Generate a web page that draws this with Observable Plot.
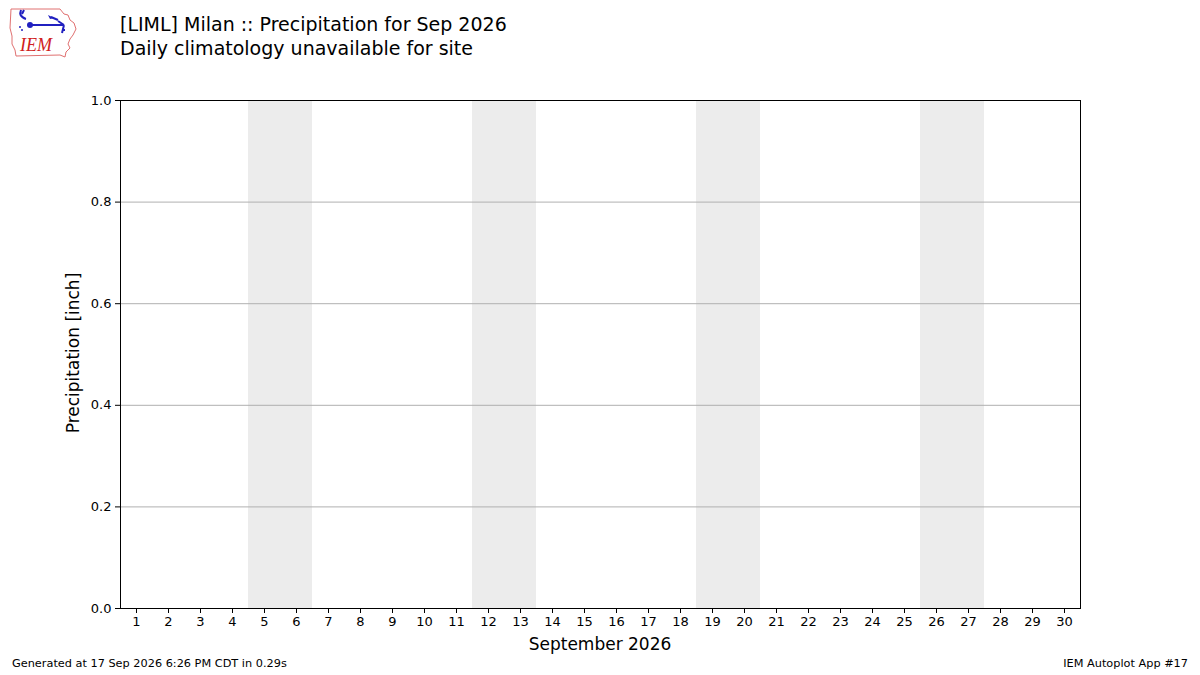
<!DOCTYPE html>
<html><head><meta charset="utf-8">
<script src="https://cdn.jsdelivr.net/npm/d3@7"></script>
<script src="https://cdn.jsdelivr.net/npm/@observablehq/plot@0.6"></script>
<style>
html,body{margin:0;padding:0;background:#fff;}
#wrap{position:relative;width:1200px;height:675px;overflow:hidden;font-family:"DejaVu Sans",sans-serif;color:#000;}
.t{position:absolute;white-space:nowrap;}
#chart{position:absolute;left:0;top:0;}
</style></head>
<body><div id="wrap">
<svg class="t" style="left:8px;top:6px" width="72" height="54" viewBox="0 0 72 54">
  <path d="M3,3 L52,3 L56,8 L60,9 L62,14 L66,17 L68,23 L65,29 L62,33 L60,38 L62,42 L58,46 L57,51 L52,49 L8,50 L7,44 L4,38 L4,30 L2,22 L3,3 Z" fill="#fff" stroke="#e07070" stroke-width="1"/>
  <path d="M13,4 L12,8 M16,4 L14,8 M12,8 Q14,12 18,13" fill="none" stroke="#2020c0" stroke-width="2"/>
  <circle cx="22" cy="19" r="3" fill="#2020c0"/>
  <path d="M22,19 L56,19 M50,15 L56,19 M43,11 L50,14 M56,19 L54,27 M54,24 L57,24" fill="none" stroke="#2020c0" stroke-width="2"/>
  <path d="M40,9 L46,12 L42,13 Z" fill="#2020c0"/>
  <circle cx="12" cy="21" r="1" fill="#2020c0"/><circle cx="14" cy="24" r="1" fill="#2020c0"/>
  <text x="12" y="45" font-family="Liberation Serif,serif" font-style="italic" font-size="18" fill="#d02020">IEM</text>
</svg>
<div class="t" id="title" style="left:120px;top:12px;font-size:19px;line-height:24px;">[LIML] Milan :: Precipitation for Sep 2026<br>Daily climatology unavailable for site</div>
<div id="chart"></div>
<div class="t" style="left:73px;top:353px;font-size:17px;transform:translate(-50%,-50%) rotate(-90deg);">Precipitation [inch]</div>
<div class="t" style="left:600px;top:644px;font-size:17px;transform:translate(-50%,-50%);">September 2026</div>
<div class="t" style="left:12px;top:657px;font-size:11.3px;">Generated at 17 Sep 2026 6:26 PM CDT in 0.29s</div>
<div class="t" style="right:12px;top:657px;font-size:11.3px;">IEM Autoplot App #17</div>
</div>
<script>
// Data
const days = d3.range(1, 31);               // September 2026 days
const precip = [];                          // no observations plotted
const weekendStarts = [5, 12, 19, 26];      // Saturdays (Sat+Sun shaded)
const yTicks = [0, 0.2, 0.4, 0.6, 0.8, 1.0];
const yDomain = [0, 1];

const chart = Plot.plot({
  width: 1200, height: 675,
  marginLeft: 120, marginRight: 120, marginTop: 100, marginBottom: 67,
  style: {fontFamily: "DejaVu Sans, sans-serif", fontSize: "13px", color: "#000", background: "transparent"},
  x: {type: "linear", domain: [0.5, 30.5], label: null},
  y: {type: "linear", domain: yDomain, label: null},
  marks: [
    Plot.rect(weekendStarts, {x1: d => d - 0.5, x2: d => d + 1.5, y1: yDomain[0], y2: yDomain[1], fill: "#ececec"}),
    Plot.ruleY(yTicks, {stroke: "#b0b0b0", strokeWidth: 1}),
    Plot.rectY(precip, {x1: d => d.day - 0.4, x2: d => d.day + 0.4, y: "value", fill: "#1f77b4"}),
    Plot.frame({stroke: "#000", strokeWidth: 1}),
    Plot.axisX(days, {tickSize: 5, tickPadding: 3, tickFormat: d => String(d), label: null, fontSize: 13}),
    Plot.axisY(yTicks, {tickSize: 5, tickPadding: 4, tickFormat: d3.format(".1f"), label: null, fontSize: 13})
  ]
});
document.getElementById("chart").appendChild(chart);
</script>
</body></html>
